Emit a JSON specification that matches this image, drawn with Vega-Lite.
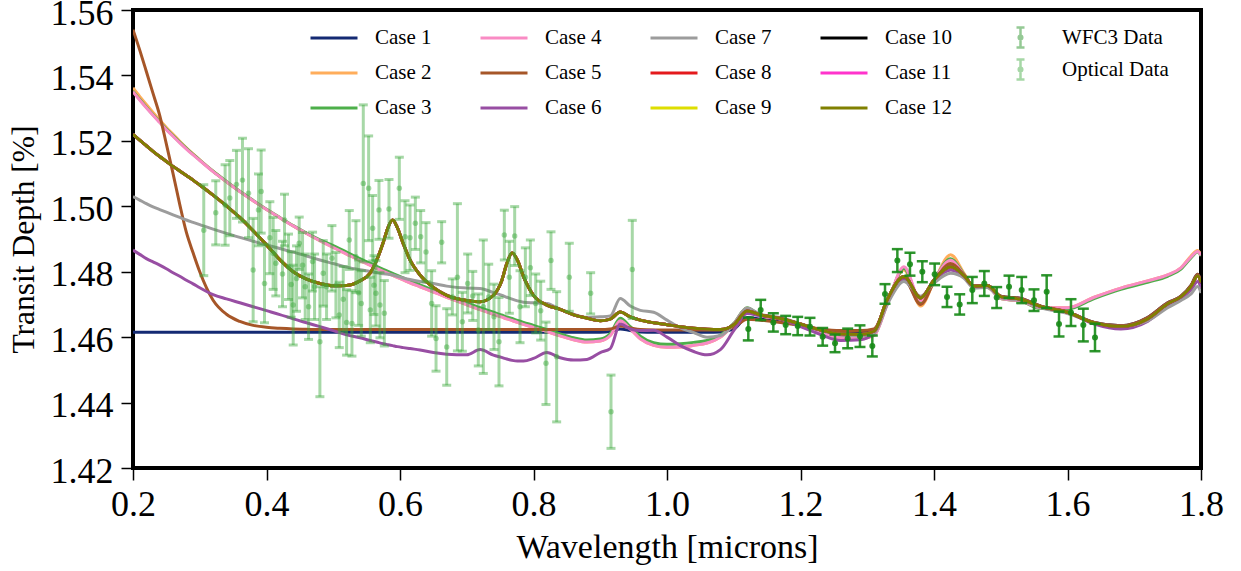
{
"$schema": "https://vega.github.io/schema/vega-lite/v6.json",
"width": 1068, "height": 458,
"autosize": {"type": "none"},
"padding": {"left": 133, "top": 10, "right": 40, "bottom": 103},
"background": "white",
"config": {
 "view": {"stroke": "black", "strokeWidth": 4},
 "font": "Liberation Serif",
 "axis": {"labelFont": "Liberation Serif", "titleFont": "Liberation Serif", "labelColor": "black", "titleColor": "black", "tickColor": "black", "labelFontSize": 36, "titleFontSize": 32, "titleFontWeight": "normal", "grid": false, "domain": false, "tickSize": 12, "tickWidth": 1.5, "labelFlush": false},
 "legend": {"labelFont": "Liberation Serif", "labelFontSize": 21, "labelColor": "black", "padding": 0}
},
"resolve": {"scale": {"color": "independent"}, "legend": {"color": "independent"}},
"layer": [
 {
 "data": {"values": [
{"x":0.20,"n":1.4615,"o":1.5362,"g":1.5352,"p":1.5350,"br":1.5540,"pu":1.4866,"gr":1.5030,"b":1.5220},
{"x":0.21,"n":1.4615,"o":1.5336,"g":1.5327,"p":1.5325,"br":1.5478,"pu":1.4853,"gr":1.5019,"b":1.5202},
{"x":0.22,"n":1.4615,"o":1.5311,"g":1.5303,"p":1.5301,"br":1.5412,"pu":1.4840,"gr":1.5008,"b":1.5185},
{"x":0.23,"n":1.4615,"o":1.5287,"g":1.5280,"p":1.5278,"br":1.5345,"pu":1.4830,"gr":1.4998,"b":1.5168},
{"x":0.24,"n":1.4615,"o":1.5264,"g":1.5258,"p":1.5256,"br":1.5278,"pu":1.4820,"gr":1.4990,"b":1.5152},
{"x":0.25,"n":1.4615,"o":1.5241,"g":1.5236,"p":1.5234,"br":1.5190,"pu":1.4809,"gr":1.4982,"b":1.5137},
{"x":0.26,"n":1.4615,"o":1.5220,"g":1.5216,"p":1.5214,"br":1.5100,"pu":1.4797,"gr":1.4974,"b":1.5122},
{"x":0.27,"n":1.4615,"o":1.5199,"g":1.5196,"p":1.5194,"br":1.5006,"pu":1.4786,"gr":1.4966,"b":1.5108},
{"x":0.28,"n":1.4615,"o":1.5179,"g":1.5177,"p":1.5175,"br":1.4920,"pu":1.4774,"gr":1.4958,"b":1.5094},
{"x":0.29,"n":1.4615,"o":1.5160,"g":1.5159,"p":1.5157,"br":1.4858,"pu":1.4763,"gr":1.4951,"b":1.5080},
{"x":0.30,"n":1.4615,"o":1.5142,"g":1.5141,"p":1.5140,"br":1.4800,"pu":1.4751,"gr":1.4944,"b":1.5065},
{"x":0.32,"n":1.4615,"o":1.5107,"g":1.5107,"p":1.5106,"br":1.4713,"pu":1.4730,"gr":1.4930,"b":1.5034},
{"x":0.34,"n":1.4615,"o":1.5075,"g":1.5076,"p":1.5075,"br":1.4670,"pu":1.4717,"gr":1.4917,"b":1.5001},
{"x":0.36,"n":1.4615,"o":1.5045,"g":1.5046,"p":1.5045,"br":1.4648,"pu":1.4705,"gr":1.4905,"b":1.4966},
{"x":0.38,"n":1.4615,"o":1.5017,"g":1.5018,"p":1.5017,"br":1.4636,"pu":1.4693,"gr":1.4893,"b":1.4925},
{"x":0.40,"n":1.4615,"o":1.4990,"g":1.4991,"p":1.4990,"br":1.4630,"pu":1.4681,"gr":1.4882,"b":1.4882},
{"x":0.42,"n":1.4615,"o":1.4965,"g":1.4966,"p":1.4965,"br":1.4627,"pu":1.4669,"gr":1.4871,"b":1.4837},
{"x":0.44,"n":1.4615,"o":1.4940,"g":1.4941,"p":1.4940,"br":1.4625,"pu":1.4656,"gr":1.4860,"b":1.4800},
{"x":0.46,"n":1.4615,"o":1.4917,"g":1.4918,"p":1.4917,"br":1.4624,"pu":1.4644,"gr":1.4848,"b":1.4777},
{"x":0.48,"n":1.4615,"o":1.4895,"g":1.4897,"p":1.4895,"br":1.4623,"pu":1.4632,"gr":1.4836,"b":1.4764},
{"x":0.50,"n":1.4615,"o":1.4874,"g":1.4880,"p":1.4874,"br":1.4623,"pu":1.4620,"gr":1.4825,"b":1.4757},
{"x":0.52,"n":1.4615,"o":1.4854,"g":1.4860,"p":1.4854,"br":1.4623,"pu":1.4607,"gr":1.4814,"b":1.4758},
{"x":0.54,"n":1.4615,"o":1.4834,"g":1.4840,"p":1.4834,"br":1.4623,"pu":1.4598,"gr":1.4806,"b":1.4772},
{"x":0.555,"n":1.4615,"o":1.4820,"g":1.4826,"p":1.4820,"br":1.4623,"pu":1.4590,"gr":1.4801,"b":1.4795},
{"x":0.565,"n":1.4615,"o":1.4810,"g":1.4816,"p":1.4810,"br":1.4623,"pu":1.4585,"gr":1.4797,"b":1.4835},
{"x":0.575,"n":1.4615,"o":1.4801,"g":1.4807,"p":1.4801,"br":1.4623,"pu":1.4580,"gr":1.4794,"b":1.4890},
{"x":0.582,"n":1.4615,"o":1.4795,"g":1.4801,"p":1.4795,"br":1.4623,"pu":1.4577,"gr":1.4792,"b":1.4935},
{"x":0.589,"n":1.4615,"o":1.4789,"g":1.4795,"p":1.4789,"br":1.4623,"pu":1.4574,"gr":1.4790,"b":1.4958},
{"x":0.596,"n":1.4615,"o":1.4783,"g":1.4789,"p":1.4783,"br":1.4623,"pu":1.4571,"gr":1.4786,"b":1.4935},
{"x":0.605,"n":1.4615,"o":1.4775,"g":1.4781,"p":1.4775,"br":1.4623,"pu":1.4568,"gr":1.4781,"b":1.4885},
{"x":0.615,"n":1.4615,"o":1.4766,"g":1.4772,"p":1.4766,"br":1.4623,"pu":1.4565,"gr":1.4776,"b":1.4836},
{"x":0.63,"n":1.4615,"o":1.4754,"g":1.4760,"p":1.4754,"br":1.4623,"pu":1.4561,"gr":1.4770,"b":1.4790},
{"x":0.65,"n":1.4615,"o":1.4738,"g":1.4744,"p":1.4738,"br":1.4623,"pu":1.4553,"gr":1.4764,"b":1.4752},
{"x":0.67,"n":1.4615,"o":1.4722,"g":1.4728,"p":1.4722,"br":1.4623,"pu":1.4548,"gr":1.4756,"b":1.4728},
{"x":0.70,"n":1.4615,"o":1.4699,"g":1.4705,"p":1.4699,"br":1.4623,"pu":1.4546,"gr":1.4750,"b":1.4712},
{"x":0.72,"n":1.4615,"o":1.4684,"g":1.4690,"p":1.4684,"br":1.4623,"pu":1.4562,"gr":1.4749,"b":1.4708},
{"x":0.74,"n":1.4615,"o":1.4670,"g":1.4676,"p":1.4670,"br":1.4623,"pu":1.4545,"gr":1.4736,"b":1.4728},
{"x":0.752,"n":1.4615,"o":1.4662,"g":1.4668,"p":1.4662,"br":1.4623,"pu":1.4538,"gr":1.4728,"b":1.4770},
{"x":0.76,"n":1.4615,"o":1.4656,"g":1.4662,"p":1.4656,"br":1.4623,"pu":1.4533,"gr":1.4722,"b":1.4825},
{"x":0.768,"n":1.4615,"o":1.4651,"g":1.4657,"p":1.4651,"br":1.4623,"pu":1.4529,"gr":1.4716,"b":1.4857},
{"x":0.776,"n":1.4615,"o":1.4645,"g":1.4651,"p":1.4645,"br":1.4623,"pu":1.4527,"gr":1.4711,"b":1.4835},
{"x":0.785,"n":1.4615,"o":1.4639,"g":1.4645,"p":1.4639,"br":1.4623,"pu":1.4527,"gr":1.4707,"b":1.4785},
{"x":0.80,"n":1.4615,"o":1.4630,"g":1.4636,"p":1.4630,"br":1.4623,"pu":1.4535,"gr":1.4705,"b":1.4728},
{"x":0.82,"n":1.4615,"o":1.4617,"g":1.4623,"p":1.4617,"br":1.4623,"pu":1.4553,"gr":1.4703,"b":1.4698},
{"x":0.84,"n":1.4615,"o":1.4604,"g":1.4610,"p":1.4604,"br":1.4623,"pu":1.4537,"gr":1.4685,"b":1.4685},
{"x":0.86,"n":1.4615,"o":1.4592,"g":1.4598,"p":1.4592,"br":1.4623,"pu":1.4530,"gr":1.4670,"b":1.4668},
{"x":0.88,"n":1.4615,"o":1.4585,"g":1.4591,"p":1.4585,"br":1.4623,"pu":1.4532,"gr":1.4660,"b":1.4658},
{"x":0.90,"n":1.4615,"o":1.4588,"g":1.4594,"p":1.4588,"br":1.4623,"pu":1.4553,"gr":1.4662,"b":1.4650},
{"x":0.915,"n":1.4617,"o":1.4605,"g":1.4611,"p":1.4605,"br":1.4625,"pu":1.4565,"gr":1.4665,"b":1.4655},
{"x":0.93,"n":1.4625,"o":1.4650,"g":1.4658,"p":1.4650,"br":1.4634,"pu":1.4640,"gr":1.4718,"b":1.4677},
{"x":0.945,"n":1.4620,"o":1.4625,"g":1.4632,"p":1.4625,"br":1.4628,"pu":1.4625,"gr":1.4695,"b":1.4662},
{"x":0.96,"n":1.4616,"o":1.4595,"g":1.4603,"p":1.4595,"br":1.4623,"pu":1.4620,"gr":1.4682,"b":1.4652},
{"x":0.98,"n":1.4615,"o":1.4575,"g":1.4583,"p":1.4575,"br":1.4622,"pu":1.4621,"gr":1.4676,"b":1.4644},
{"x":1.00,"n":1.4615,"o":1.4569,"g":1.4578,"p":1.4569,"br":1.4622,"pu":1.4600,"gr":1.4652,"b":1.4638},
{"x":1.02,"n":1.4615,"o":1.4570,"g":1.4580,"p":1.4570,"br":1.4622,"pu":1.4574,"gr":1.4628,"b":1.4632},
{"x":1.04,"n":1.4615,"o":1.4575,"g":1.4584,"p":1.4575,"br":1.4622,"pu":1.4556,"gr":1.4614,"b":1.4627},
{"x":1.06,"n":1.4615,"o":1.4582,"g":1.4590,"p":1.4582,"br":1.4622,"pu":1.4546,"gr":1.4600,"b":1.4624},
{"x":1.08,"n":1.4616,"o":1.4600,"g":1.4606,"p":1.4600,"br":1.4622,"pu":1.4562,"gr":1.4605,"b":1.4623},
{"x":1.10,"n":1.4625,"o":1.4640,"g":1.4642,"p":1.4640,"br":1.4630,"pu":1.4620,"gr":1.4640,"b":1.4638},
{"x":1.12,"n":1.4660,"o":1.4688,"g":1.4690,"p":1.4688,"br":1.4655,"pu":1.4672,"gr":1.4688,"b":1.4680},
{"x":1.14,"n":1.4655,"o":1.4665,"g":1.4667,"p":1.4665,"br":1.4652,"pu":1.4665,"gr":1.4670,"b":1.4668},
{"x":1.17,"n":1.4648,"o":1.4655,"g":1.4657,"p":1.4655,"br":1.4645,"pu":1.4655,"gr":1.4660,"b":1.4657},
{"x":1.20,"n":1.4636,"o":1.4635,"g":1.4637,"p":1.4635,"br":1.4636,"pu":1.4632,"gr":1.4640,"b":1.4640},
{"x":1.23,"n":1.4622,"o":1.4613,"g":1.4615,"p":1.4613,"br":1.4625,"pu":1.4608,"gr":1.4620,"b":1.4622},
{"x":1.26,"n":1.4615,"o":1.4598,"g":1.4600,"p":1.4598,"br":1.4620,"pu":1.4590,"gr":1.4608,"b":1.4610},
{"x":1.29,"n":1.4614,"o":1.4595,"g":1.4597,"p":1.4595,"br":1.4620,"pu":1.4592,"gr":1.4605,"b":1.4608},
{"x":1.31,"n":1.4620,"o":1.4605,"g":1.4607,"p":1.4605,"br":1.4625,"pu":1.4612,"gr":1.4612,"b":1.4618},
{"x":1.33,"n":1.4710,"o":1.4705,"g":1.4702,"p":1.4700,"br":1.4710,"pu":1.4705,"gr":1.4700,"b":1.4715},
{"x":1.355,"n":1.4778,"o":1.4805,"g":1.4810,"p":1.4815,"br":1.4778,"pu":1.4775,"gr":1.4770,"b":1.4785},
{"x":1.38,"n":1.4705,"o":1.4695,"g":1.4708,"p":1.4712,"br":1.4700,"pu":1.4722,"gr":1.4725,"b":1.4720},
{"x":1.40,"n":1.4770,"o":1.4770,"g":1.4773,"p":1.4775,"br":1.4768,"pu":1.4772,"gr":1.4765,"b":1.4775},
{"x":1.425,"n":1.4822,"o":1.4852,"g":1.4840,"p":1.4835,"br":1.4825,"pu":1.4805,"gr":1.4795,"b":1.4815},
{"x":1.445,"n":1.4790,"o":1.4795,"g":1.4792,"p":1.4790,"br":1.4790,"pu":1.4785,"gr":1.4780,"b":1.4788},
{"x":1.46,"n":1.4755,"o":1.4752,"g":1.4752,"p":1.4752,"br":1.4755,"pu":1.4755,"gr":1.4750,"b":1.4756},
{"x":1.48,"n":1.4758,"o":1.4752,"g":1.4752,"p":1.4752,"br":1.4758,"pu":1.4758,"gr":1.4752,"b":1.4758},
{"x":1.50,"n":1.4725,"o":1.4718,"g":1.4718,"p":1.4718,"br":1.4725,"pu":1.4722,"gr":1.4720,"b":1.4724},
{"x":1.53,"n":1.4718,"o":1.4710,"g":1.4710,"p":1.4710,"br":1.4718,"pu":1.4715,"gr":1.4712,"b":1.4716},
{"x":1.56,"n":1.4695,"o":1.4690,"g":1.4688,"p":1.4690,"br":1.4695,"pu":1.4693,"gr":1.4690,"b":1.4694},
{"x":1.60,"n":1.4677,"o":1.4690,"g":1.4686,"p":1.4690,"br":1.4677,"pu":1.4675,"gr":1.4672,"b":1.4676},
{"x":1.64,"n":1.4645,"o":1.4722,"g":1.4718,"p":1.4722,"br":1.4645,"pu":1.4640,"gr":1.4645,"b":1.4644},
{"x":1.68,"n":1.4635,"o":1.4750,"g":1.4746,"p":1.4750,"br":1.4635,"pu":1.4625,"gr":1.4633,"b":1.4633},
{"x":1.72,"n":1.4660,"o":1.4772,"g":1.4768,"p":1.4772,"br":1.4660,"pu":1.4648,"gr":1.4650,"b":1.4656},
{"x":1.75,"n":1.4705,"o":1.4790,"g":1.4786,"p":1.4790,"br":1.4705,"pu":1.4695,"gr":1.4690,"b":1.4702},
{"x":1.77,"n":1.4725,"o":1.4812,"g":1.4808,"p":1.4812,"br":1.4725,"pu":1.4718,"gr":1.4712,"b":1.4724},
{"x":1.785,"n":1.4758,"o":1.4848,"g":1.4842,"p":1.4845,"br":1.4758,"pu":1.4745,"gr":1.4732,"b":1.4755},
{"x":1.795,"n":1.4792,"o":1.4865,"g":1.4860,"p":1.4862,"br":1.4792,"pu":1.4770,"gr":1.4755,"b":1.4788},
{"x":1.80,"n":1.4772,"o":1.4852,"g":1.4848,"p":1.4850,"br":1.4772,"pu":1.4750,"gr":1.4735,"b":1.4768}
 ]},
 "layer": [
  {"mark": {"type": "line", "strokeWidth": 3, "interpolate": "monotone", "clip": true},
   "encoding": {
    "x": {"field": "x", "type": "quantitative", "title": "Wavelength [microns]", "scale": {"domain": [0.2, 1.8], "nice": false, "zero": false}, "axis": {"values": [0.2,0.4,0.6,0.8,1.0,1.2,1.4,1.6,1.8], "format": ".1f", "labelPadding": 7, "titlePadding": 8, "titleFontSize": 34}},
    "y": {"field": "n", "type": "quantitative", "title": "Transit Depth [%]", "scale": {"domain": [1.42, 1.56], "nice": false, "zero": false}, "axis": {"values": [1.42,1.44,1.46,1.48,1.50,1.52,1.54,1.56], "format": ".2f", "labelPadding": 8, "titlePadding": 10, "titleFontSize": 31.5, "labelOffset": 3}},
    "color": {"datum": "Case 1", "type": "nominal",
      "scale": {"domain": ["Case 1","Case 2","Case 3","Case 4","Case 5","Case 6","Case 7","Case 8","Case 9","Case 10","Case 11","Case 12"],
                "range": ["#142a73","#ffad5b","#4daf4a","#f98bc4","#a65628","#984ea3","#9c9c9c","#e41a1c","#dede00","#000000","#ff33cc","#808000"]},
      "legend": {"title": null, "orient": "none", "legendX": 176, "legendY": 3, "columns": 4, "symbolType": "stroke", "symbolSize": 2209, "symbolStrokeWidth": 3, "labelOffset": 16, "columnPadding": 42, "rowPadding": -3, "labelFontSize": 21}}
   }},
  {"mark": {"type": "line", "strokeWidth": 3, "interpolate": "monotone", "clip": true},
   "encoding": {"x": {"field": "x", "type": "quantitative", "title": "Wavelength [microns]", "scale": {"domain": [0.2, 1.8], "nice": false, "zero": false}}, "y": {"field": "o", "type": "quantitative", "title": "Transit Depth [%]", "scale": {"domain": [1.42, 1.56], "nice": false, "zero": false}}, "color": {"datum": "Case 2", "type": "nominal"}}},
  {"mark": {"type": "line", "strokeWidth": 3, "interpolate": "monotone", "clip": true},
   "encoding": {"x": {"field": "x", "type": "quantitative", "title": "Wavelength [microns]", "scale": {"domain": [0.2, 1.8], "nice": false, "zero": false}}, "y": {"field": "g", "type": "quantitative", "title": "Transit Depth [%]", "scale": {"domain": [1.42, 1.56], "nice": false, "zero": false}}, "color": {"datum": "Case 3", "type": "nominal"}}},
  {"mark": {"type": "line", "strokeWidth": 3, "interpolate": "monotone", "clip": true},
   "encoding": {"x": {"field": "x", "type": "quantitative", "title": "Wavelength [microns]", "scale": {"domain": [0.2, 1.8], "nice": false, "zero": false}}, "y": {"field": "p", "type": "quantitative", "title": "Transit Depth [%]", "scale": {"domain": [1.42, 1.56], "nice": false, "zero": false}}, "color": {"datum": "Case 4", "type": "nominal"}}},
  {"mark": {"type": "line", "strokeWidth": 3, "interpolate": "monotone", "clip": true},
   "encoding": {"x": {"field": "x", "type": "quantitative", "title": "Wavelength [microns]", "scale": {"domain": [0.2, 1.8], "nice": false, "zero": false}}, "y": {"field": "br", "type": "quantitative", "title": "Transit Depth [%]", "scale": {"domain": [1.42, 1.56], "nice": false, "zero": false}}, "color": {"datum": "Case 5", "type": "nominal"}}},
  {"mark": {"type": "line", "strokeWidth": 3, "interpolate": "monotone", "clip": true},
   "encoding": {"x": {"field": "x", "type": "quantitative", "title": "Wavelength [microns]", "scale": {"domain": [0.2, 1.8], "nice": false, "zero": false}}, "y": {"field": "pu", "type": "quantitative", "title": "Transit Depth [%]", "scale": {"domain": [1.42, 1.56], "nice": false, "zero": false}}, "color": {"datum": "Case 6", "type": "nominal"}}},
  {"mark": {"type": "line", "strokeWidth": 3, "interpolate": "monotone", "clip": true},
   "encoding": {"x": {"field": "x", "type": "quantitative", "title": "Wavelength [microns]", "scale": {"domain": [0.2, 1.8], "nice": false, "zero": false}}, "y": {"field": "gr", "type": "quantitative", "title": "Transit Depth [%]", "scale": {"domain": [1.42, 1.56], "nice": false, "zero": false}}, "color": {"datum": "Case 7", "type": "nominal"}}},
  {"mark": {"type": "line", "strokeWidth": 3, "interpolate": "monotone", "clip": true},
   "encoding": {"x": {"field": "x", "type": "quantitative", "title": "Wavelength [microns]", "scale": {"domain": [0.2, 1.8], "nice": false, "zero": false}}, "y": {"field": "b", "type": "quantitative", "title": "Transit Depth [%]", "scale": {"domain": [1.42, 1.56], "nice": false, "zero": false}}, "color": {"datum": "Case 8", "type": "nominal"}}},
  {"mark": {"type": "line", "strokeWidth": 3, "interpolate": "monotone", "clip": true},
   "encoding": {"x": {"field": "x", "type": "quantitative", "title": "Wavelength [microns]", "scale": {"domain": [0.2, 1.8], "nice": false, "zero": false}}, "y": {"field": "b", "type": "quantitative", "title": "Transit Depth [%]", "scale": {"domain": [1.42, 1.56], "nice": false, "zero": false}}, "color": {"datum": "Case 9", "type": "nominal"}}},
  {"mark": {"type": "line", "strokeWidth": 3, "interpolate": "monotone", "clip": true},
   "encoding": {"x": {"field": "x", "type": "quantitative", "title": "Wavelength [microns]", "scale": {"domain": [0.2, 1.8], "nice": false, "zero": false}}, "y": {"field": "b", "type": "quantitative", "title": "Transit Depth [%]", "scale": {"domain": [1.42, 1.56], "nice": false, "zero": false}}, "color": {"datum": "Case 10", "type": "nominal"}}},
  {"mark": {"type": "line", "strokeWidth": 3, "interpolate": "monotone", "clip": true},
   "encoding": {"x": {"field": "x", "type": "quantitative", "title": "Wavelength [microns]", "scale": {"domain": [0.2, 1.8], "nice": false, "zero": false}}, "y": {"field": "b", "type": "quantitative", "title": "Transit Depth [%]", "scale": {"domain": [1.42, 1.56], "nice": false, "zero": false}}, "color": {"datum": "Case 11", "type": "nominal"}}},
  {"mark": {"type": "line", "strokeWidth": 3, "interpolate": "monotone", "clip": true},
   "encoding": {"x": {"field": "x", "type": "quantitative", "title": "Wavelength [microns]", "scale": {"domain": [0.2, 1.8], "nice": false, "zero": false}}, "y": {"field": "b", "type": "quantitative", "title": "Transit Depth [%]", "scale": {"domain": [1.42, 1.56], "nice": false, "zero": false}}, "color": {"datum": "Case 12", "type": "nominal"}}}
 ]
 },
 {
 "layer": [
  {"data": {"name": "optical", "values": [
{"wl":0.306,"d":1.4927,"e":0.0139},{"wl":0.324,"d":1.498,"e":0.0098},{"wl":0.338,"d":1.5004,"e":0.0123},{"wl":0.345,"d":1.5025,"e":0.0115},{"wl":0.355,"d":1.5067,"e":0.0104},{"wl":0.364,"d":1.508,"e":0.0128},{"wl":0.373,"d":1.504,"e":0.0136},{"wl":0.380,"d":1.4805,"e":0.0158},{"wl":0.388,"d":1.4989,"e":0.011},{"wl":0.392,"d":1.5045,"e":0.0127},{"wl":0.397,"d":1.4764,"e":0.012},{"wl":0.405,"d":1.4904,"e":0.011},{"wl":0.410,"d":1.4856,"e":0.011},{"wl":0.414,"d":1.4826,"e":0.010},{"wl":0.424,"d":1.4793,"e":0.010},{"wl":0.427,"d":1.4958,"e":0.0079},{"wl":0.433,"d":1.4815,"e":0.010},{"wl":0.437,"d":1.4761,"e":0.010},{"wl":0.440,"d":1.4698,"e":0.0122},{"wl":0.445,"d":1.4779,"e":0.010},{"wl":0.449,"d":1.4887,"e":0.008},{"wl":0.454,"d":1.482,"e":0.010},{"wl":0.458,"d":1.4754,"e":0.010},{"wl":0.463,"d":1.4693,"e":0.010},{"wl":0.469,"d":1.4831,"e":0.009},{"wl":0.472,"d":1.4754,"e":0.010},{"wl":0.480,"d":1.4586,"e":0.0168},{"wl":0.485,"d":1.4795,"e":0.010},{"wl":0.490,"d":1.4754,"e":0.010},{"wl":0.498,"d":1.4841,"e":0.010},{"wl":0.504,"d":1.4759,"e":0.010},{"wl":0.509,"d":1.4668,"e":0.010},{"wl":0.515,"d":1.4716,"e":0.010},{"wl":0.520,"d":1.4645,"e":0.010},{"wl":0.524,"d":1.4897,"e":0.009},{"wl":0.528,"d":1.4642,"e":0.010},{"wl":0.534,"d":1.4846,"e":0.011},{"wl":0.538,"d":1.4736,"e":0.010},{"wl":0.542,"d":1.4703,"e":0.010},{"wl":0.545,"d":1.507,"e":0.024},{"wl":0.553,"d":1.5055,"e":0.016},{"wl":0.5555,"d":1.4683,"e":0.010},{"wl":0.559,"d":1.4933,"e":0.010},{"wl":0.561,"d":1.4759,"e":0.009},{"wl":0.564,"d":1.4734,"e":0.010},{"wl":0.5685,"d":1.4989,"e":0.009},{"wl":0.570,"d":1.4698,"e":0.010},{"wl":0.5765,"d":1.4673,"e":0.010},{"wl":0.5835,"d":1.4992,"e":0.009},{"wl":0.599,"d":1.5055,"e":0.0095},{"wl":0.6075,"d":1.4907,"e":0.011},{"wl":0.615,"d":1.4904,"e":0.010},{"wl":0.623,"d":1.4948,"e":0.008},{"wl":0.631,"d":1.4907,"e":0.008},{"wl":0.639,"d":1.486,"e":0.009},{"wl":0.6474,"d":1.4703,"e":0.010},{"wl":0.654,"d":1.4596,"e":0.010},{"wl":0.6624,"d":1.489,"e":0.0063},{"wl":0.670,"d":1.457,"e":0.0117},{"wl":0.6784,"d":1.4723,"e":0.0055},{"wl":0.686,"d":1.4783,"e":0.0225},{"wl":0.6934,"d":1.4647,"e":0.009},{"wl":0.7014,"d":1.4764,"e":0.009},{"wl":0.709,"d":1.4726,"e":0.0075},{"wl":0.7173,"d":1.4622,"e":0.011},{"wl":0.7248,"d":1.4693,"e":0.0204},{"wl":0.7329,"d":1.4723,"e":0.010},{"wl":0.7408,"d":1.4662,"e":0.010},{"wl":0.7483,"d":1.4586,"e":0.0135},{"wl":0.7563,"d":1.4912,"e":0.0076},{"wl":0.7638,"d":1.4783,"e":0.011},{"wl":0.7718,"d":1.4909,"e":0.009},{"wl":0.7798,"d":1.4693,"e":0.011},{"wl":0.7878,"d":1.4783,"e":0.009},{"wl":0.7953,"d":1.4812,"e":0.0085},{"wl":0.8033,"d":1.4703,"e":0.009},{"wl":0.8108,"d":1.4681,"e":0.009},{"wl":0.8187,"d":1.452,"e":0.0126},{"wl":0.8262,"d":1.4834,"e":0.0088},{"wl":0.8347,"d":1.454,"e":0.0199},{"wl":0.8536,"d":1.4783,"e":0.0104},{"wl":0.8856,"d":1.4734,"e":0.0063},{"wl":0.9161,"d":1.4372,"e":0.0112},{"wl":0.948,"d":1.4807,"e":0.015}
  ]},
  "layer": [
   {"mark": {"type": "errorbar", "opacity": 0.45, "thickness": 3, "ticks": {"size": 9}},
    "encoding": {"x": {"field": "wl", "type": "quantitative", "title": "Wavelength [microns]", "scale": {"domain": [0.2, 1.8], "nice": false, "zero": false}}, "y": {"field": "d", "type": "quantitative", "title": "Transit Depth [%]", "scale": {"domain": [1.42, 1.56], "nice": false, "zero": false}}, "yError": {"field": "e"},
     "color": {"datum": "Optical Data", "type": "nominal",
       "scale": {"domain": ["WFC3 Data", "Optical Data"], "range": ["#178a17", "#3ca83c"]},
       "legend": {"title": null, "orient": "none", "legendX": 876, "legendY": 16, "direction": "vertical",
         "symbolType": "M0,-1L0,1M-0.4,-1L0.4,-1M-0.4,1L0.4,1M-0.18,0A0.18,0.18,0,1,1,0.18,0A0.18,0.18,0,1,1,-0.18,0Z",
         "symbolSize": 400, "symbolStrokeWidth": 2.5, "labelOffset": 30, "rowPadding": 1, "labelFontSize": 21,
         "encode": {"symbols": {"update": {
            "opacity": {"signal": "datum.value === 'Optical Data' ? 0.5 : 1"},
            "stroke": {"signal": "datum.value === 'Optical Data' ? '#3ca83c' : '#178a17'"},
            "fill": {"signal": "datum.value === 'Optical Data' ? '#3ca83c' : '#178a17'"}}}}}}}},
   {"mark": {"type": "circle", "opacity": 0.45, "size": 30, "clip": true},
    "encoding": {"x": {"field": "wl", "type": "quantitative", "title": "Wavelength [microns]", "scale": {"domain": [0.2, 1.8], "nice": false, "zero": false}}, "y": {"field": "d", "type": "quantitative", "title": "Transit Depth [%]", "scale": {"domain": [1.42, 1.56], "nice": false, "zero": false}}, "color": {"datum": "Optical Data", "type": "nominal"}}}
  ]},
  {"data": {"name": "wfc3", "values": [
{"wl":1.1218,"d":1.4625,"e":0.0035},{"wl":1.1404,"d":1.4683,"e":0.0031},{"wl":1.1593,"d":1.4645,"e":0.0028},{"wl":1.1778,"d":1.4637,"e":0.0028},{"wl":1.1958,"d":1.4634,"e":0.0028},{"wl":1.2142,"d":1.4632,"e":0.0027},{"wl":1.2332,"d":1.4601,"e":0.0027},{"wl":1.2517,"d":1.4581,"e":0.0027},{"wl":1.2707,"d":1.4596,"e":0.003},{"wl":1.2891,"d":1.4603,"e":0.0033},{"wl":1.3076,"d":1.4573,"e":0.0032},{"wl":1.3266,"d":1.4732,"e":0.003},{"wl":1.3451,"d":1.4834,"e":0.0035},{"wl":1.364,"d":1.4823,"e":0.0035},{"wl":1.3825,"d":1.48,"e":0.0032},{"wl":1.401,"d":1.4792,"e":0.0033},{"wl":1.4195,"d":1.4723,"e":0.0031},{"wl":1.4385,"d":1.47,"e":0.0031},{"wl":1.4574,"d":1.4744,"e":0.004},{"wl":1.4754,"d":1.4764,"e":0.0038},{"wl":1.4939,"d":1.4721,"e":0.0032},{"wl":1.5124,"d":1.4754,"e":0.0034},{"wl":1.5314,"d":1.4744,"e":0.004},{"wl":1.5498,"d":1.4713,"e":0.0033},{"wl":1.5688,"d":1.4739,"e":0.005},{"wl":1.5873,"d":1.464,"e":0.0038},{"wl":1.6052,"d":1.4675,"e":0.0041},{"wl":1.6237,"d":1.4637,"e":0.005},{"wl":1.6412,"d":1.4599,"e":0.0042}
  ]},
  "layer": [
   {"mark": {"type": "errorbar", "opacity": 0.9, "thickness": 2.5, "ticks": {"size": 11}},
    "encoding": {"x": {"field": "wl", "type": "quantitative", "title": "Wavelength [microns]", "scale": {"domain": [0.2, 1.8], "nice": false, "zero": false}}, "y": {"field": "d", "type": "quantitative", "title": "Transit Depth [%]", "scale": {"domain": [1.42, 1.56], "nice": false, "zero": false}}, "yError": {"field": "e"}, "color": {"datum": "WFC3 Data", "type": "nominal"}}},
   {"mark": {"type": "circle", "opacity": 0.9, "size": 36, "clip": true},
    "encoding": {"x": {"field": "wl", "type": "quantitative", "title": "Wavelength [microns]", "scale": {"domain": [0.2, 1.8], "nice": false, "zero": false}}, "y": {"field": "d", "type": "quantitative", "title": "Transit Depth [%]", "scale": {"domain": [1.42, 1.56], "nice": false, "zero": false}}, "color": {"datum": "WFC3 Data", "type": "nominal"}}}
  ]}
 ]
 }
]
}
